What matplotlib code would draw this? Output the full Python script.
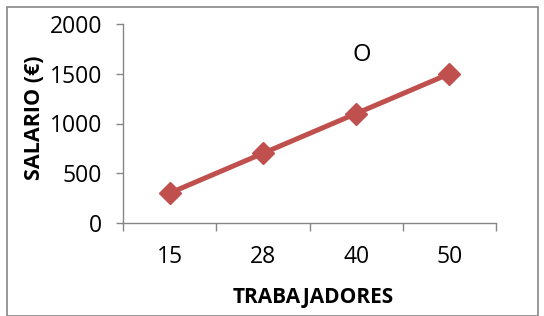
import matplotlib
matplotlib.use("Agg")
import matplotlib.pyplot as plt
from matplotlib.patches import Rectangle

trabajadores = ["15", "28", "40", "50"]
salario = [300, 700, 1100, 1500]
y_ticks = [0, 500, 1000, 1500, 2000]

RED = "#C0504D"
GRAY = "#868686"

plt.rcParams['font.family'] = ['Open Sans', 'DejaVu Sans']

fig = plt.figure(figsize=(5.44, 3.16), dpi=100)
ax = fig.add_axes([123 / 544, 1 - 223 / 316, (496 - 123) / 544, (223 - 24) / 316])

x = list(range(len(trabajadores)))
ax.plot(x, salario, color=RED, linewidth=3.6, marker="D", markersize=11.5,
        markerfacecolor=RED, markeredgecolor=RED, solid_capstyle="butt")

ax.set_xlim(-0.5, len(trabajadores) - 0.5)
ax.set_ylim(0, 2000)

# category boundaries get the tick marks, centres get the labels
ax.set_xticks([i - 0.5 for i in range(len(trabajadores) + 1)])
ax.set_xticklabels([])
ax.set_xticks(x, minor=True)
ax.set_xticklabels(trabajadores, minor=True)
ax.tick_params(axis="x", which="major", direction="out", length=6, width=1, color=GRAY)
ax.tick_params(axis="x", which="minor", length=0, pad=16, labelsize=16.5)

ax.set_yticks(y_ticks)
ax.tick_params(axis="y", direction="out", length=5, width=1, color=GRAY, pad=10, labelsize=16.5)

for s in ["top", "right"]:
    ax.spines[s].set_visible(False)
for s in ["left", "bottom"]:
    ax.spines[s].set_color(GRAY)
    ax.spines[s].set_linewidth(1)

ax.set_xlabel("TRABAJADORES", fontsize=15, fontweight="bold", va="center")
ax.set_ylabel("SALARIO (€)", fontsize=15.5, fontweight="bold", va="center")
ax.xaxis.set_label_coords((313 - 123) / (496 - 123), -(298 - 223) / (223 - 24))
ax.yaxis.set_label_coords(-(123 - 35) / (496 - 123), (223 - 118) / (223 - 24))

ax.text(2.06, 1690, "O", fontsize=17, ha="center", va="center")

fig.patches.append(Rectangle((7 / 544, 0.5 / 316), 531 / 544, 309 / 316,
                             transform=fig.transFigure, fill=False,
                             edgecolor=GRAY, linewidth=1.2))

fig.savefig("out.png", dpi=100)
